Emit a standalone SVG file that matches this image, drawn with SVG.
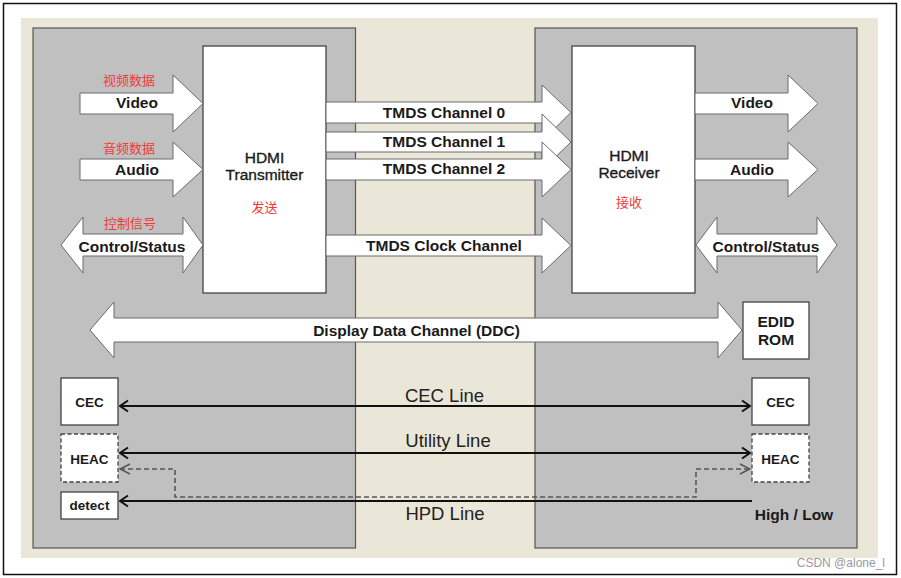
<svg xmlns="http://www.w3.org/2000/svg" width="901" height="578" viewBox="0 0 901 578">
<defs>
<style>
.bg{fill:#ebe7d8}
.panel{fill:#c0c0c0;stroke:#555;stroke-width:1.2}
.box{fill:#fff;stroke:#444;stroke-width:1.3}
.dbox{fill:#fff;stroke:#444;stroke-width:1.3;stroke-dasharray:4,2.5}
.barrow{fill:#fff;stroke:#6a6a6a;stroke-width:1}
.t{font-family:"Liberation Sans",Arial,sans-serif;fill:#1a1a1a;text-anchor:middle}
.b{font-weight:bold}
.lbl{font-size:15.5px}
.med{stroke:#1a1a1a;stroke-width:0.35}
.sm{font-size:13.5px}
.line{font-size:18.5px;fill:#222}
.cn{font-family:"Liberation Sans","Noto Sans CJK SC",sans-serif;font-size:13px;fill:#f03a3a;text-anchor:middle}
.ln{stroke:#111;stroke-width:2;fill:none}
.dl{stroke:#555;stroke-width:1.6;fill:none;stroke-dasharray:5,3}
</style>
<marker id="ah" viewBox="0 0 10 14" refX="9" refY="7" markerWidth="10" markerHeight="14" markerUnits="userSpaceOnUse" orient="auto-start-reverse">
<path d="M1,1.5 L9,7 L1,12.5" fill="none" stroke="#111" stroke-width="2"/>
</marker>
<marker id="ahd" viewBox="0 0 12 12" refX="11" refY="6" markerWidth="12" markerHeight="12" markerUnits="userSpaceOnUse" orient="auto-start-reverse">
<path d="M1,1 L11,6 L1,11" fill="none" stroke="#555" stroke-width="1.5"/>
</marker>
</defs>
<rect x="0" y="0" width="901" height="578" fill="#fff"/>
<rect x="3.5" y="3.5" width="893" height="571" fill="#fff" stroke="#111" stroke-width="1.5"/>
<rect class="bg" x="21" y="18" width="857" height="540"/>
<g id="source-panel"><rect class="panel" x="33" y="28" width="322.5" height="520"/></g>
<g id="sink-panel"><rect class="panel" x="535" y="28" width="322" height="520"/></g>

<g id="transmitter">
<rect class="box" x="203" y="46" width="123" height="247"/>
<text class="t lbl med" x="264.5" y="163">HDMI</text>
<text class="t lbl med" x="264.5" y="180">Transmitter</text>
<text class="cn" x="264.5" y="212">发送</text>
</g>
<g id="receiver">
<rect class="box" x="572" y="46" width="123" height="247"/>
<text class="t lbl med" x="629" y="161">HDMI</text>
<text class="t lbl med" x="629" y="178">Receiver</text>
<text class="cn" x="629" y="207">接收</text>
</g>
<g id="edid">
<rect class="box" x="743" y="302" width="66" height="57"/>
<text class="t b lbl" x="776" y="327">EDID</text>
<text class="t b lbl" x="776" y="345">ROM</text>
</g>
<g id="cec-src"><rect class="box" x="61" y="378" width="57" height="47"/><text class="t b sm" x="89.5" y="407">CEC</text></g>
<g id="heac-src"><rect class="dbox" x="61" y="434" width="57" height="48"/><text class="t b sm" x="89.5" y="464">HEAC</text></g>
<g id="detect"><rect class="box" x="61" y="492" width="57" height="27"/><text class="t b sm" x="89.5" y="510">detect</text></g>
<g id="cec-sink"><rect class="box" x="752" y="378" width="57" height="47"/><text class="t b sm" x="780.5" y="407">CEC</text></g>
<g id="heac-sink"><rect class="dbox" x="752" y="434" width="57" height="48"/><text class="t b sm" x="780.5" y="464">HEAC</text></g>

<g id="connectors">
<polygon class="barrow" points="80,93 173,93 173,75 203,103.5 173,132 173,114 80,114"/>
<text class="cn" x="129" y="85">视频数据</text>
<text class="t b lbl" x="137" y="108">Video</text>
<polygon class="barrow" points="80,159 173,159 173,142 203,169.5 173,197 173,180 80,180"/>
<text class="cn" x="129" y="153">音频数据</text>
<text class="t b lbl" x="137" y="175">Audio</text>
<polygon class="barrow" points="61,245 83,217 83,234 183,234 183,217 203,245 183,273 183,256 83,256 83,273"/>
<text class="cn" x="130" y="228">控制信号</text>
<text class="t b lbl" x="132" y="252">Control/Status</text>

<polygon class="barrow" points="326,102 542,102 542,85 571,112.5 542,141 542,123 326,123"/>
<text class="t b lbl" x="444" y="118">TMDS Channel 0</text>
<polygon class="barrow" points="326,132 542,132 542,114 571,142 542,170 542,152 326,152"/>
<text class="t b lbl" x="444" y="147">TMDS Channel 1</text>
<polygon class="barrow" points="326,159 542,159 542,142 571,169.5 542,197 542,180 326,180"/>
<text class="t b lbl" x="444" y="174">TMDS Channel 2</text>
<polygon class="barrow" points="326,235 542,235 542,218 571,245.5 542,273 542,256 326,256"/>
<text class="t b lbl" x="444" y="251">TMDS Clock Channel</text>

<polygon class="barrow" points="695,93 788,93 788,75 818,103.5 788,132 788,114 695,114"/>
<text class="t b lbl" x="752" y="108">Video</text>
<polygon class="barrow" points="695,159 788,159 788,142 818,169.5 788,197 788,180 695,180"/>
<text class="t b lbl" x="752" y="175">Audio</text>
<polygon class="barrow" points="696,245 717,217 717,234 817,234 817,217 837,245 817,273 817,256 717,256 717,273"/>
<text class="t b lbl" x="766" y="252">Control/Status</text>

<polygon class="barrow" points="90,330 114,302 114,318 718,318 718,302 742,330 718,358 718,342 114,342 114,358"/>
<text class="t b lbl" x="416.5" y="336">Display Data Channel (DDC)</text>

<line class="ln" x1="120" y1="406" x2="750" y2="406" marker-start="url(#ah)" marker-end="url(#ah)"/>
<text class="t line" x="444.5" y="402">CEC Line</text>
<line class="ln" x1="120" y1="453" x2="750" y2="453" marker-start="url(#ah)" marker-end="url(#ah)"/>
<text class="t line" x="448" y="447">Utility Line</text>
<polyline class="dl" points="120,469 175,469 175,497 696,497 696,469 750,469" marker-start="url(#ahd)" marker-end="url(#ahd)"/>
<line class="ln" x1="752" y1="501" x2="120" y2="501" marker-end="url(#ah)"/>
<text class="t line" x="445" y="520">HPD Line</text>
<text class="t b lbl" x="794" y="520">High / Low</text>
</g>
<text x="885" y="567" font-family="'Liberation Sans',Arial,sans-serif" font-size="12" fill="#999" text-anchor="end">CSDN @alone_l</text>
</svg>
